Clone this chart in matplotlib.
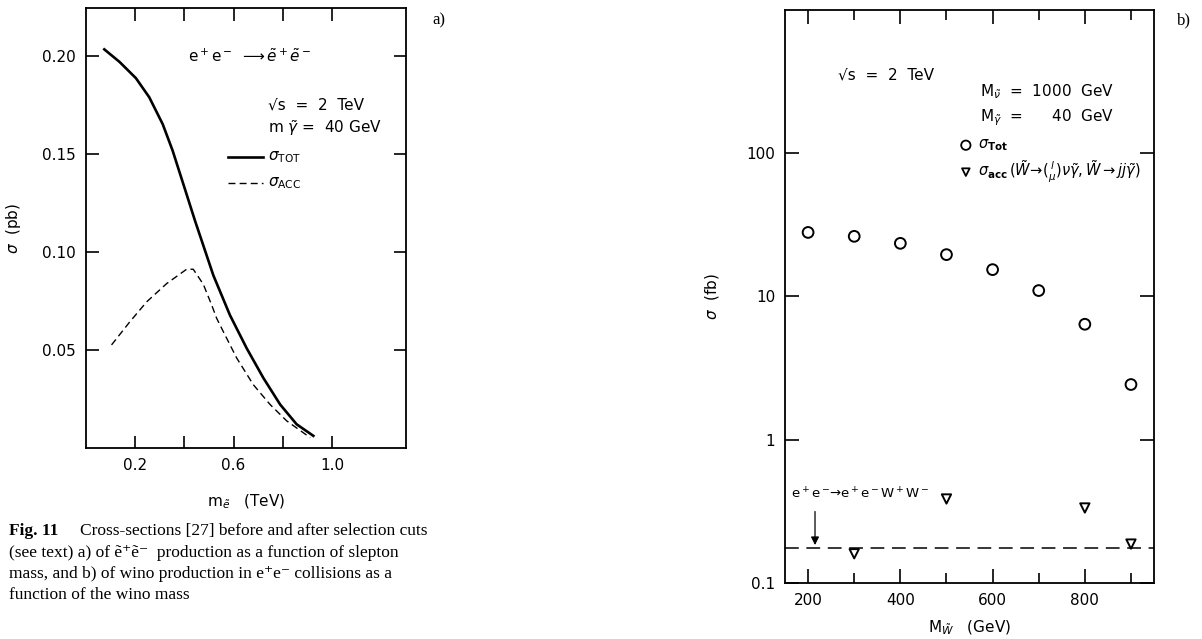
import numpy as np
import matplotlib
matplotlib.use("Agg")
from matplotlib import pyplot as plt

plt.rcParams['font.family'] = ['DejaVu Sans']
plt.rcParams['mathtext.fontset'] = 'dejavusans'

# a) slepton pair production, sigma vs slepton mass (TeV)
m_tot = [0.0745, 0.1355, 0.203, 0.257, 0.312, 0.352, 0.4065, 0.443, 0.5176, 0.585, 0.653, 0.721, 0.789, 0.856, 0.924]
sig_tot = [0.2034, 0.1971, 0.1887, 0.1790, 0.1652, 0.1518, 0.1304, 0.116, 0.0881, 0.0678, 0.0509, 0.0357, 0.0222, 0.0121, 0.0062]
m_acc = [0.104, 0.179, 0.247, 0.328, 0.409, 0.436, 0.477, 0.511, 0.531, 0.558, 0.6125, 0.680, 0.748, 0.816, 0.911]
sig_acc = [0.0526, 0.0645, 0.0746, 0.0839, 0.0912, 0.0912, 0.0835, 0.0729, 0.0662, 0.0594, 0.0459, 0.0323, 0.0222, 0.0138, 0.0053]

# b) wino production, sigma vs wino mass (GeV)
m_wino = [200, 300, 400, 500, 600, 700, 800, 900]
sig_wino_tot = [28.0, 26.3, 23.5, 19.6, 15.4, 11.0, 6.4, 2.43]
m_wino_acc = [300, 500, 800, 900]
sig_wino_acc = [0.16, 0.386, 0.334, 0.187]
sig_eeww = 0.176

fig = plt.figure(figsize=(12.02, 6.39), dpi=100)
fig.patch.set_facecolor('white')

# ---- panel a
axA = fig.add_axes([0.0715, 0.2989, 0.2662, 0.6886])
axA.plot(m_tot, sig_tot, color='black', lw=1.9)
axA.plot(m_acc, sig_acc, color='black', lw=1.0, ls=(0, (5, 3)))
axA.set_xlim(0.0, 1.3)
axA.set_ylim(0.0, 0.2245)
axA.set_xticks([0.2, 0.4, 0.6, 0.8, 1.0])
axA.set_xticklabels(['0.2', '', '0.6', '', '1.0'])
axA.set_yticks([0.05, 0.10, 0.15, 0.20])
axA.set_yticklabels(['0.05', '0.10', '0.15', '0.20'])
axA.tick_params(direction='in', length=9, width=1.2, top=True, right=True,
                labelsize=11, pad=7, colors='black')
for s in axA.spines.values():
    s.set_linewidth(1.3)
axA.set_ylabel(r'$\sigma$  (pb)', fontsize=11, labelpad=14)
axA.set_xlabel(r'm$_{\tilde{e}}$   (TeV)', fontsize=11, labelpad=14)

axA.text(0.319, 0.889, r'e$^+$e$^-$ $\longrightarrow$$\tilde{e}^+\tilde{e}^-$',
         transform=axA.transAxes, fontsize=11, va='center')
axA.text(0.569, 0.78, '√s  =  2  TeV', transform=axA.transAxes, fontsize=11, va='center')
axA.text(0.569, 0.727, r'm $\tilde{\gamma}$ =  40 GeV', transform=axA.transAxes, fontsize=11, va='center')
axA.plot([0.444, 0.553], [0.661, 0.661], transform=axA.transAxes, color='black', lw=1.9)
axA.text(0.569, 0.661, r'$\sigma_{\rm TOT}$', transform=axA.transAxes, fontsize=11, va='center')
axA.plot([0.444, 0.553], [0.602, 0.602], transform=axA.transAxes, color='black', lw=1.0, ls=(0, (5, 3)))
axA.text(0.569, 0.602, r'$\sigma_{\rm ACC}$', transform=axA.transAxes, fontsize=11, va='center')
fig.text(0.36, 0.968, 'a)', fontsize=12, family=['Liberation Serif', 'DejaVu Serif'], va='center')

# ---- panel b
axB = fig.add_axes([0.6531, 0.0876, 0.307, 0.8968])
axB.set_yscale('log')
axB.scatter(m_wino, sig_wino_tot, s=60, facecolors='none', edgecolors='black', linewidths=1.4, zorder=3)
axB.scatter(m_wino_acc, sig_wino_acc, s=45, marker='v', facecolors='none', edgecolors='black',
            linewidths=1.4, zorder=3)
axB.axhline(sig_eeww, color='black', lw=1.1, ls=(0, (9, 5)))
axB.set_xlim(150, 950)
axB.set_ylim(0.1, 1000)
axB.set_xticks([200, 400, 600, 800])
axB.set_xticks([300, 500, 700, 900], minor=True)
axB.set_yticks([0.1, 1, 10, 100])
axB.set_yticklabels(['0.1', '1', '10', '100'])
axB.yaxis.set_minor_locator(matplotlib.ticker.NullLocator())
axB.tick_params(which='major', direction='in', length=10, width=1.2, top=True, right=True,
                labelsize=11, pad=7, colors='black')
axB.tick_params(which='minor', direction='in', length=7, width=1.2, top=True)
for s in axB.spines.values():
    s.set_linewidth(1.3)
axB.set_ylabel(r'$\sigma$  (fb)', fontsize=11, labelpad=18)
axB.set_xlabel(r'M$_{\tilde{W}}$   (GeV)', fontsize=11, labelpad=8)

axB.text(0.144, 0.887, '√s  =  2  TeV', transform=axB.transAxes, fontsize=11, va='center')
axB.text(0.528, 0.857, r'M$_{\tilde{\nu}}$  =  1000  GeV', transform=axB.transAxes, fontsize=11, va='center')
axB.text(0.528, 0.812, r'M$_{\tilde{\gamma}}$  =      40  GeV', transform=axB.transAxes, fontsize=11, va='center')
axB.scatter([0.49], [0.764], s=45, facecolors='none', edgecolors='black', linewidths=1.3,
            transform=axB.transAxes, clip_on=False)
axB.text(0.523, 0.764, r'$\sigma_{\bf Tot}$', transform=axB.transAxes, fontsize=10.5, va='center')
axB.scatter([0.49], [0.717], s=30, marker='v', facecolors='none', edgecolors='black', linewidths=1.3,
            transform=axB.transAxes, clip_on=False)
axB.text(0.523, 0.717,
         r'$\sigma_{\bf acc}\,(\tilde{W}\!\rightarrow\!(^{\,l}_{\mu})\nu\tilde{\gamma},\tilde{W}\rightarrow jj\tilde{\gamma})$',
         transform=axB.transAxes, fontsize=10.5, va='center')

axB.annotate('', xy=(215, sig_eeww), xytext=(215, 0.33),
             arrowprops=dict(arrowstyle='-|>', color='black', lw=0.9, mutation_scale=12))
axB.text(163, 0.42, r'e$^+$e$^-$$\!\!\rightarrow\!$e$^+$e$^-$W$^+$W$^-$', fontsize=9.5, va='center')
fig.text(0.979, 0.968, 'b)', fontsize=12, family=['Liberation Serif', 'DejaVu Serif'], va='center')

# ---- caption
serif = ['Liberation Serif', 'DejaVu Serif']
cap_y = [531, 553, 574, 595]
fig.text(9 / 1202, 1 - cap_y[0] / 639, 'Fig. 11', fontsize=12.5, family=serif, weight='bold', va='center')
fig.text(80 / 1202, 1 - cap_y[0] / 639, 'Cross-sections [27] before and after selection cuts',
         fontsize=12.5, family=serif, va='center')
lines = ['(see text) a) of ẽ\u207aẽ\u207b  production as a function of slepton',
         'mass, and b) of wino production in e\u207ae\u207b collisions as a',
         'function of the wino mass']
for yy, ln in zip(cap_y[1:], lines):
    fig.text(9 / 1202, 1 - yy / 639, ln, fontsize=12.5, family=serif, va='center')

fig.savefig('out.png', dpi=100)
